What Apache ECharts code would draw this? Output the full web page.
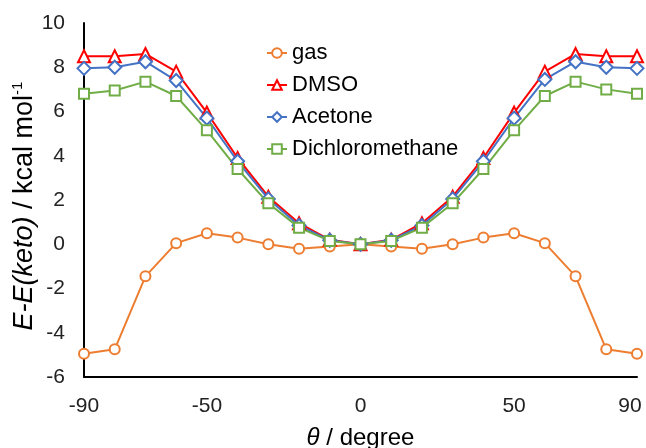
<!DOCTYPE html>
<html>
<head>
<meta charset="utf-8">
<script src="https://cdn.jsdelivr.net/npm/echarts@6/dist/echarts.min.js"></script>
<style>
  html, body { margin: 0; padding: 0; background: #fff; }
  #main { width: 646px; height: 448px; }
</style>
</head>
<body>
<div id="main"></div>
<script>
// dihedral angle, degree
var angles = [-90, -80, -70, -60, -50, -40, -30, -20, -10, 0, 10, 20, 30, 40, 50, 60, 70, 80, 90];
var xTicks = [-90, -50, 0, 50, 90];

// E - E(keto), kcal/mol
var gas = [-4.95, -4.75, -1.45, 0.05, 0.5, 0.3, 0, -0.2, -0.1, 0, -0.1, -0.2, 0, 0.3, 0.5, 0.05, -1.45, -4.75, -4.95];
var dmso = [8.5, 8.5, 8.6, 7.8, 5.95, 3.9, 2.15, 0.95, 0.2, 0, 0.2, 0.95, 2.15, 3.9, 5.95, 7.8, 8.6, 8.5, 8.5];
var acetone = [7.95, 8.0, 8.25, 7.4, 5.7, 3.75, 2.05, 0.85, 0.18, 0, 0.18, 0.85, 2.05, 3.75, 5.7, 7.45, 8.25, 8.0, 7.95];
var dcm = [6.8, 6.95, 7.35, 6.7, 5.15, 3.4, 1.85, 0.75, 0.15, 0, 0.15, 0.75, 1.85, 3.4, 5.15, 6.7, 7.35, 7.0, 6.8];

var font = 'Liberation Sans, Arial, sans-serif';

function pairs(vals) {
    return angles.map(function (a, i) { return [a, vals[i]]; });
}

function makeSeries(name, vals, color, symbol, size) {
    return {
        name: name,
        type: 'line',
        data: pairs(vals),
        symbol: symbol,
        symbolSize: size,
        showAllSymbol: true,
        lineStyle: { color: color, width: 2 },
        itemStyle: { color: '#fff', borderColor: color, borderWidth: 2 },
        emphasis: { disabled: true }
    };
}

var myChart = echarts.init(document.getElementById('main'));

var option = {
    animation: false,
    grid: { left: 84, right: 9, top: 23, bottom: 71, containLabel: false, outerBoundsMode: 'none' },
    legend: {
        orient: 'vertical',
        left: 261,
        top: 37,
        itemGap: 10,
        itemWidth: 20,
        itemHeight: 12,
        textStyle: { fontFamily: font, fontSize: 22, color: '#000' },
        data: ['gas', 'DMSO', 'Acetone', 'Dichloromethane']
    },
    xAxis: {
        type: 'value',
        min: -90,
        max: 90,
        interval: 10,
        name: '{i|θ} / degree',
        nameLocation: 'middle',
        nameGap: 49,
        nameMoveOverlap: false,
        nameTextStyle: {
            fontFamily: font, fontSize: 24, color: '#000',
            rich: { i: { fontFamily: font, fontSize: 24, fontStyle: 'italic', color: '#000' } }
        },
        axisLine: { show: true, onZero: false, lineStyle: { color: '#000', width: 2 } },
        axisTick: { show: false },
        splitLine: { show: false },
        axisLabel: {
            customValues: xTicks,
            margin: 19,
            fontFamily: font, fontSize: 21, color: '#222',
            formatter: function (v) {
                // last label is pulled in so it stays inside the frame
                return v === 90 ? '{r|' + v + '}' : String(v);
            },
            rich: { r: { fontFamily: font, fontSize: 21, color: '#222', padding: [0, 14, 0, 0] } }
        }
    },
    yAxis: {
        type: 'value',
        min: -6,
        max: 10,
        interval: 2,
        name: '{i|E-E(keto)} / kcal mol{s|-1}',
        nameLocation: 'middle',
        nameGap: 45,
        nameMoveOverlap: false,
        nameRotate: 90,
        nameTextStyle: {
            fontFamily: font, fontSize: 27, color: '#000',
            padding: [0, 12, 0, 0],
            rich: {
                i: { fontFamily: font, fontSize: 27, fontStyle: 'italic', color: '#000' },
                s: { fontFamily: font, fontSize: 15, color: '#000', padding: [0, 0, 14, 0] }
            }
        },
        axisLine: { show: true, onZero: false, lineStyle: { color: '#000', width: 2 } },
        axisTick: { show: false },
        splitLine: { show: false },
        axisLabel: { margin: 19, fontFamily: font, fontSize: 21, color: '#222' }
    },
    series: [
        makeSeries('gas', gas, '#ED7D31', 'circle', 10),
        makeSeries('DMSO', dmso, '#FF0000', 'triangle', 12),
        makeSeries('Acetone', acetone, '#4472C4', 'diamond', 13),
        makeSeries('Dichloromethane', dcm, '#70AD47', 'rect', 10)
    ]
};

myChart.setOption(option);
</script>
</body>
</html>
